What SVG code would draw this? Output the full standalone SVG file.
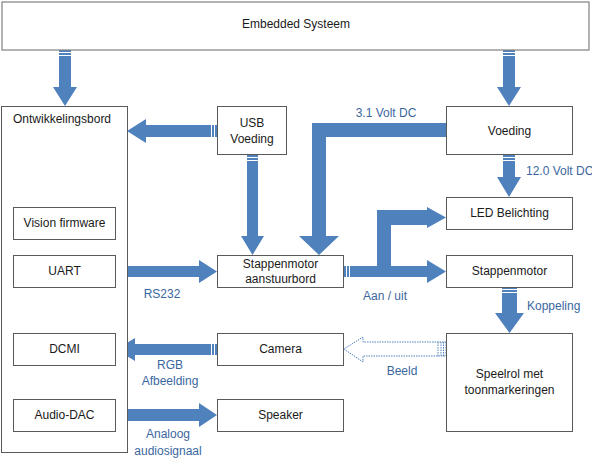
<svg xmlns="http://www.w3.org/2000/svg" width="592" height="459" viewBox="0 0 592 459">
<style>
  .box { fill: #ffffff; stroke: #595959; stroke-width: 1; }
  .outer { fill: #ffffff; stroke: #808080; stroke-width: 1.2; }
  .t { font-family: "Liberation Sans", Arial, sans-serif; font-size: 12px; fill: #1a1a1a; text-anchor: middle; }
  .ts { text-anchor: start; }
  .lbl { font-family: "Liberation Sans", Arial, sans-serif; font-size: 12px; fill: #3B67A0; text-anchor: middle; }
  .arr { fill: #4F81BD; stroke: none; }
  .stripe { stroke: #ffffff; stroke-width: 1; }
  .dash { fill: #ffffff; stroke: #4F81BD; stroke-width: 1; stroke-dasharray: 1.5 1; }
</style>
<rect width="592" height="459" fill="#ffffff"/>

<g id="connectors">
  <!-- Embedded -> Ontwikkelingsbord -->
  <polygon class="arr" points="59,50 71,50 71,87 77,87 65,106 53,87 59,87"/>
  <line class="stripe" x1="59" y1="52.5" x2="71" y2="52.5"/>
  <line class="stripe" x1="59" y1="55.5" x2="71" y2="55.5"/>
  <!-- Embedded -> Voeding -->
  <polygon class="arr" points="503,50 515,50 515,87 521,87 509,106 497,87 503,87"/>
  <line class="stripe" x1="503" y1="52.5" x2="515" y2="52.5"/>
  <line class="stripe" x1="503" y1="55.5" x2="515" y2="55.5"/>
  <!-- USB -> Ontwikkelingsbord -->
  <polygon class="arr" points="217,125 146,125 146,119 127,131 146,143 146,137 217,137"/>
  <line class="stripe" x1="214.5" y1="125" x2="214.5" y2="137"/>
  <line class="stripe" x1="211.5" y1="125" x2="211.5" y2="137"/>
  <!-- USB -> Stappenmotor aanstuurbord -->
  <polygon class="arr" points="247,155 258,155 258,236 264,236 252.5,255 241,236 247,236"/>
  <line class="stripe" x1="247" y1="157.5" x2="258" y2="157.5"/>
  <line class="stripe" x1="247" y1="160.5" x2="258" y2="160.5"/>
  <!-- Voeding -> Stappenmotor aanstuurbord (3.1 Volt DC) -->
  <polygon class="arr" points="446,123 312,123 312,236 299,236 319,255 339,236 326,236 326,137 446,137"/>
  <!-- Voeding -> LED Belichting -->
  <polygon class="arr" points="503,155 515,155 515,177 521,177 509,197 497,177 503,177"/>
  <line class="stripe" x1="503" y1="157.5" x2="515" y2="157.5"/>
  <line class="stripe" x1="503" y1="160.5" x2="515" y2="160.5"/>
  <!-- UART -> Stappenmotor aanstuurbord -->
  <polygon class="arr" points="116,266 199,266 199,260 217,271.5 199,283 199,277 116,277"/>
  <line class="stripe" x1="118.5" y1="266" x2="118.5" y2="277"/>
  <line class="stripe" x1="121.5" y1="266" x2="121.5" y2="277"/>
  <!-- Stappenmotor aanstuurbord -> Stappenmotor -->
  <polygon class="arr" points="344,266 427,266 427,260 446,271.5 427,283 427,277 344,277"/>
  <line class="stripe" x1="346.5" y1="266" x2="346.5" y2="277"/>
  <line class="stripe" x1="349.5" y1="266" x2="349.5" y2="277"/>
  <!-- branch -> LED Belichting -->
  <polygon class="arr" points="377,266 377,210 427,210 427,207 446,217.5 427,228 427,225 391,225 391,266"/>
  <!-- Camera -> DCMI -->
  <polygon class="arr" points="217,344 135,344 135,338 116,349.5 135,361 135,355 217,355"/>
  <line class="stripe" x1="214.5" y1="344" x2="214.5" y2="355"/>
  <line class="stripe" x1="211.5" y1="344" x2="211.5" y2="355"/>
  <!-- Audio-DAC -> Speaker -->
  <polygon class="arr" points="116,409 199,409 199,403 217,415 199,427 199,421 116,421"/>
  <line class="stripe" x1="118.5" y1="409" x2="118.5" y2="421"/>
  <line class="stripe" x1="121.5" y1="409" x2="121.5" y2="421"/>
  <!-- Stappenmotor -> Speelrol -->
  <polygon class="arr" points="502,287 517,287 517,313 524,313 509.5,333 495,313 502,313"/>
  <line class="stripe" x1="502" y1="289.5" x2="517" y2="289.5"/>
  <line class="stripe" x1="502" y1="292.5" x2="517" y2="292.5"/>
  <!-- Speelrol -> Camera (Beeld), dashed outline -->
  <polygon class="dash" points="446,342 363,342 363,337 344,349 363,362 363,356 446,356"/>
  <line class="dash" x1="438" y1="342" x2="438" y2="356"/>
  <line class="dash" x1="441" y1="342" x2="441" y2="356"/>
  <line class="dash" x1="443.5" y1="342" x2="443.5" y2="356"/>
</g>

<g id="embedded">
  <rect class="outer" x="2" y="2" width="587" height="48"/>
  <text class="t" x="296" y="28">Embedded Systeem</text>
</g>
<g id="ontwikkelingsbord">
  <rect class="box" x="1.5" y="106.5" width="126" height="346"/>
  <text class="t ts" x="13" y="123">Ontwikkelingsbord</text>
</g>
<g id="vision">
  <rect class="box" x="13.5" y="207.5" width="102" height="32"/>
  <text class="t" x="64.5" y="227">Vision firmware</text>
</g>
<g id="uart">
  <rect class="box" x="13.5" y="255.5" width="102" height="32"/>
  <text class="t" x="64.5" y="275">UART</text>
</g>
<g id="dcmi">
  <rect class="box" x="13.5" y="333.5" width="102" height="32"/>
  <text class="t" x="64.5" y="353">DCMI</text>
</g>
<g id="audiodac">
  <rect class="box" x="13.5" y="399.5" width="102" height="32"/>
  <text class="t" x="64.5" y="419">Audio-DAC</text>
</g>
<g id="usb">
  <rect class="box" x="217.5" y="106.5" width="69" height="48"/>
  <text class="t" x="252" y="127">USB</text>
  <text class="t" x="252" y="143">Voeding</text>
</g>
<g id="aanstuurbord">
  <rect class="box" x="217.5" y="255.5" width="126" height="32"/>
  <text class="t" x="280.5" y="268">Stappenmotor</text>
  <text class="t" x="280.5" y="283">aanstuurbord</text>
</g>
<g id="camera">
  <rect class="box" x="217.5" y="333.5" width="126" height="32"/>
  <text class="t" x="280.5" y="353">Camera</text>
</g>
<g id="speaker">
  <rect class="box" x="217.5" y="399.5" width="126" height="32"/>
  <text class="t" x="280.5" y="419">Speaker</text>
</g>
<g id="voeding">
  <rect class="box" x="446.5" y="106.5" width="126" height="48"/>
  <text class="t" x="509.5" y="135">Voeding</text>
</g>
<g id="led">
  <rect class="box" x="446.5" y="197.5" width="126" height="32"/>
  <text class="t" x="509.5" y="217">LED Belichting</text>
</g>
<g id="stappenmotor">
  <rect class="box" x="446.5" y="255.5" width="126" height="32"/>
  <text class="t" x="509.5" y="275">Stappenmotor</text>
</g>
<g id="speelrol">
  <rect class="box" x="446.5" y="333.5" width="126" height="98"/>
  <text class="t" x="509.5" y="378">Speelrol met</text>
  <text class="t" x="509.5" y="394">toonmarkeringen</text>
</g>

<g id="labels">
  <text class="lbl" x="386" y="117">3.1 Volt DC</text>
  <text class="lbl" x="526" y="175" text-anchor="start" style="text-anchor:start">12.0 Volt DC</text>
  <text class="lbl" x="162" y="298">RS232</text>
  <text class="lbl" x="385" y="300">Aan / uit</text>
  <text class="lbl" x="527" y="310" style="text-anchor:start">Koppeling</text>
  <text class="lbl" x="402" y="375">Beeld</text>
  <text class="lbl" x="170" y="369">RGB</text>
  <text class="lbl" x="170" y="385">Afbeelding</text>
  <text class="lbl" x="168" y="438">Analoog</text>
  <text class="lbl" x="168" y="455">audiosignaal</text>
</g>
</svg>
